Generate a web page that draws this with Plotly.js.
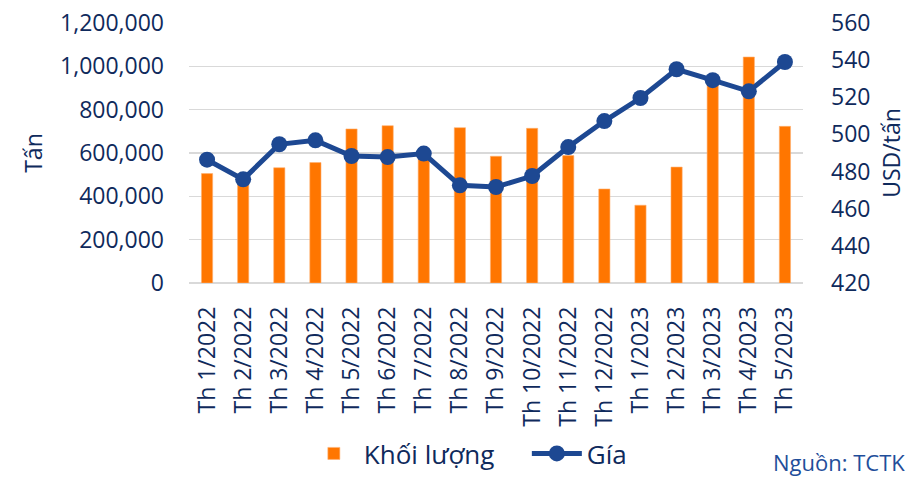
<!DOCTYPE html>
<html>
<head>
<meta charset="utf-8">
<script src="https://cdn.plot.ly/plotly-3.0.1.min.js"></script>
<style>html,body{margin:0;padding:0;background:#fff;}#chart{width:907px;height:477px;}</style>
</head>
<body>
<div id="chart"></div>
<script>
const months = ["Th 1/2022","Th 2/2022","Th 3/2022","Th 4/2022","Th 5/2022","Th 6/2022","Th 7/2022","Th 8/2022","Th 9/2022","Th 10/2022","Th 11/2022","Th 12/2022","Th 1/2023","Th 2/2023","Th 3/2023","Th 4/2023","Th 5/2023"];
const volume = [505000, 470000, 532000, 556000, 711000, 726000, 595000, 717000, 585000, 714000, 588000, 434000, 359000, 535000, 925000, 1043000, 723000];
const price = [486.4, 475.8, 494.7, 496.8, 488.4, 487.8, 489.7, 472.6, 471.7, 477.6, 493.2, 507.2, 519.6, 535.1, 529.2, 523.2, 539.0];
const leftTicks = [0, 200000, 400000, 600000, 800000, 1000000, 1200000];
const rightTicks = [420, 440, 460, 480, 500, 520, 540, 560];

const navy = '#0f2a5c';
const lineBlue = '#1d4892';
const orange = '#ff7600';
const fontFam = '"Open Sans", sans-serif';

const traces = [
  {
    type: 'bar', name: 'Khối lượng', x: months, y: volume,
    marker: {color: orange, line: {color: '#ffb070', width: 0.6}},
    yaxis: 'y'
  },
  {
    type: 'scatter', mode: 'lines+markers', name: 'Gía', x: months, y: price,
    line: {color: lineBlue, width: 5},
    marker: {color: lineBlue, size: 16},
    yaxis: 'y2'
  }
];

const layout = {
  width: 907, height: 477,
  margin: {l: 189, r: 104, t: 23, b: 194, autoexpand: false},
  paper_bgcolor: '#fff', plot_bgcolor: '#fff',
  font: {family: fontFam, color: navy, size: 22},
  bargap: 0.69,
  showlegend: true,
  legend: {
    orientation: 'h', xref: 'container', yref: 'container',
    x: 0.335, xanchor: 'left', y: 0.0, yanchor: 'bottom',
    font: {family: fontFam, size: 26, color: navy}, itemwidth: 50, traceorder: 'normal',
    entrywidthmode: 'pixels', entrywidth: 158,
    bgcolor: 'rgba(0,0,0,0)'
  },
  xaxis: {
    type: 'category', range: [-0.5, months.length - 0.5], tickangle: -90, ticks: '',
    showgrid: false, showline: false, automargin: false,
    tickfont: {family: fontFam, size: 23, color: navy}, ticklabelstandoff: 18
  },
  yaxis: {
    range: [0, 1200000], tickvals: leftTicks, tickformat: ',', ticks: '', automargin: false,
    showgrid: true, gridcolor: '#d9d9d9', gridwidth: 1.5,
    zeroline: true, zerolinecolor: '#d9d9d9', zerolinewidth: 1.5, showline: false,
    tickfont: {family: fontFam, size: 23, color: navy}, ticklabelstandoff: 24,
    title: {text: 'Tấn', font: {family: fontFam, size: 23, color: navy}, standoff: 10}
  },
  yaxis2: {
    overlaying: 'y', side: 'right', range: [420, 560], tickvals: rightTicks, ticks: '', automargin: false,
    showgrid: false, zeroline: false, showline: false,
    tickfont: {family: fontFam, size: 23, color: navy}, ticklabelstandoff: 27,
    title: {text: 'USD/tấn', font: {family: fontFam, size: 23, color: navy}, standoff: 22}
  },
  annotations: [{
    text: 'Nguồn: TCTK', xref: 'paper', yref: 'paper', x: 1.17, y: -0.69,
    xanchor: 'right', yanchor: 'middle', showarrow: false,
    font: {family: fontFam, size: 22, color: '#1f4e9a'}
  }]
};

Plotly.newPlot('chart', traces, layout, {displayModeBar: false, staticPlot: true});
</script>
</body>
</html>
